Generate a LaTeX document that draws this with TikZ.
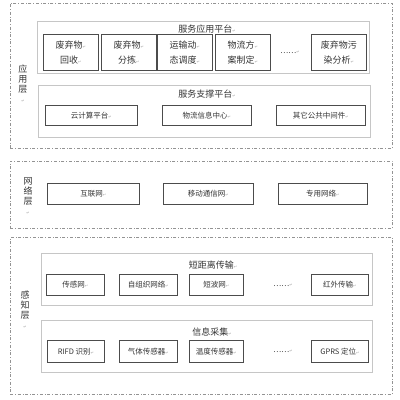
\documentclass[tikz,border=0pt]{standalone}
\usepackage{fontspec}
\setmainfont{Noto Sans CJK SC}
\newfontfamily\markfont{DejaVu Sans}
\usetikzlibrary{positioning}

\newcommand{\rt}{{\markfont\fontsize{4}{4}\selectfont\textcolor{gray!70}{↵}}}

\tikzset{
    layerbox/.style={draw=gray!85, dash dot, line width=0.5pt, anchor=north west, inner sep=0pt},
    platbox/.style={draw=gray!45, line width=1pt, anchor=north west, inner sep=0pt},
    itembox/.style={draw=black!70, line width=0.8pt, anchor=north west, inner sep=0pt, align=center},
    bigtext/.style={font=\fontsize{9}{15}\selectfont, text=black!80},
    smalltext/.style={font=\fontsize{7.5}{9}\selectfont, text=black!80},
    layertext/.style={font=\fontsize{9}{10}\selectfont, text=black!80, align=center, inner sep=0pt}
}

\begin{document}
\begin{tikzpicture}[x=1pt, y=-1pt]
            \useasboundingbox (0,0) rectangle (400,400);

            % layers
            \node[layerbox, minimum width=382pt, minimum height=145pt] (app) at (10,3) {};
            \node[layerbox, minimum width=382pt, minimum height=67pt] (net) at (10,161) {};
            \node[layerbox, minimum width=382pt, minimum height=157pt] (sense) at (10,237) {};

            \node[layertext] (appLabel) at (23,84) {应\\用\\层\\\rt};
            \node[layertext] (netLabel) at (28,196) {网\\络\\层\\\rt};
            \node[layertext] (senseLabel) at (25,310) {感\\知\\层\\\rt};

            % platforms
            \node[platbox, minimum width=332pt, minimum height=52pt] (svc) at (37,21) {};
            \node[platbox, minimum width=332pt, minimum height=52pt] (sup) at (38,85) {};
            \node[platbox, minimum width=331pt, minimum height=52pt] (short) at (41,253) {};
            \node[platbox, minimum width=331pt, minimum height=52pt] (info) at (41,320) {};

            \node[bigtext] (svcTitle) at (207,29) {服务应用平台\rt};
            \node[bigtext] (supTitle) at (207,94) {服务支撑平台\rt};
            \node[bigtext] (shortTitle) at (213,265) {短距离传输\rt};
            \node[bigtext] (infoTitle) at (212,332) {信息采集\rt};

            % service applications
            \foreach \x/\t [count=\i] in {43/{废弃物\rt\\回收\rt}, 101/{废弃物\rt\\分拣\rt}, 157/{运输动\rt\\态调度\rt}, 215/{物流方\rt\\案制定\rt}, 311/{废弃物污\\染分析\rt}}{
                \node[itembox, bigtext, minimum width=55pt, minimum height=36pt] (svc-\i) at (\x,34) {\t};
            }
            \node[smalltext] (svcDots) at (290,52) {……\rt};

            % support platform
            \foreach \x/\w/\t [count=\i] in {45/92/云计算平台, 162/89/物流信息中心, 276/89/其它公共中间件}{
                \node[itembox, smalltext, minimum width=\w pt, minimum height=20pt] (sup-\i) at (\x,105) {\t\rt};
            }

            % networks
            \foreach \x/\w/\t [count=\i] in {47/92/互联网, 163/90/移动通信网, 278/89/专用网络}{
                \node[itembox, smalltext, minimum width=\w pt, minimum height=21pt] (net-\i) at (\x,183) {\t\rt};
            }

            % short range transmission
            \foreach \x/\w/\t [count=\i] in {46/58/传感网, 119/58/自组织网络, 189/54/短波网, 311/57/红外传输}{
                \node[itembox, smalltext, minimum width=\w pt, minimum height=21pt] (short-\i) at (\x,274) {\t\rt};
            }
            \node[smalltext] (shortDots) at (283,285) {……\rt};

            % information collection
            \foreach \x/\w/\t [count=\i] in {47/57/RIFD 识别, 119/58/气体传感器, 189/54/温度传感器, 311/57/GPRS 定位}{
                \node[itembox, smalltext, minimum width=\w pt, minimum height=22pt] (info-\i) at (\x,340) {\t\rt};
            }
            \node[smalltext] (infoDots) at (283,351) {……\rt};

        \end{tikzpicture}
\end{document}
